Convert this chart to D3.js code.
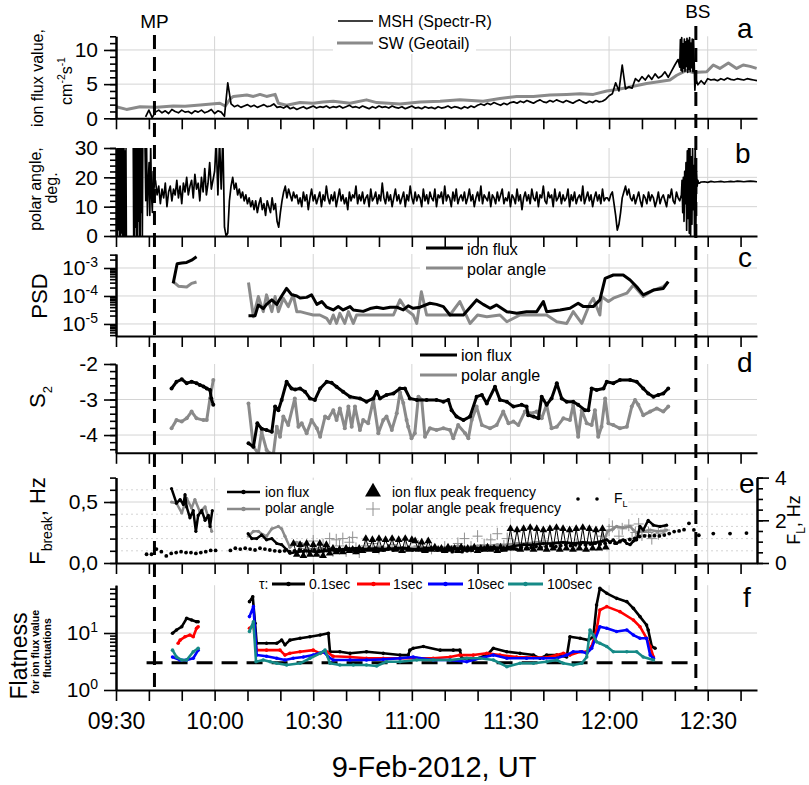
<!DOCTYPE html>
<html>
<head>
<meta charset="utf-8">
<script src="https://cdn.jsdelivr.net/npm/d3@7"></script>
<style>
  body { margin: 0; background: #fff; }
  svg { display: block; background: #fff; }
</style>
</head>
<body>
<svg width="809" height="785"></svg>
<script>
// ---- data (time in minutes after 09:30 UT, 9-Feb-2012) ----

// a: ion flux value (MSH, Spectr-R) sampled every minute from t=9
const mshStart = 9;
const mshValues = [
  0.2, 1.2, 0.1, 0.9, 1.2, 0.8, 1.1, 0.7, 1.3, 1.0,
  0.8, 1.2, 0.9, 1.0, 0.7, 1.1, 0.9, 1.2, 0.8, 1.0,
  1.3, 0.7, 1.1, 0.9, 0.3, 5.2, 2.1, 1.7, 1.9, 1.6,
  1.8, 2.0, 1.7, 1.9, 1.6, 1.8, 2.0, 1.7, 1.8, 2.1,
  1.6, 1.7, 1.5, 1.8, 1.4, 1.6, 1.3, 1.5, 1.7, 1.4,
  1.6, 1.8, 1.5, 1.7, 1.6, 1.8, 1.5, 1.7, 1.6, 1.8,
  1.5, 1.7, 1.9, 1.6, 1.7, 1.5, 1.8, 1.6, 1.4, 1.7,
  1.5, 1.8, 1.6, 1.7, 1.5, 1.8, 1.6, 1.5, 1.7, 1.4,
  1.6, 1.8, 1.5, 1.6, 1.4, 1.7, 1.5, 1.6, 1.4, 1.7,
  1.5, 1.6, 1.8, 1.5, 1.7, 1.6, 1.4, 1.7, 1.5, 1.8,
  1.6, 1.9, 2.1, 1.9, 2.2, 2.0, 2.3, 2.1, 1.9, 2.2,
  2.0, 2.3, 2.4, 2.2, 2.5, 2.3, 2.6, 2.4, 2.2, 2.5,
  2.7, 2.4, 2.3, 2.6, 2.4, 2.7, 2.5, 2.3, 2.6, 2.4,
  2.2, 2.5, 2.7, 2.4, 2.2, 2.5, 2.3, 2.6, 2.4, 2.5,
  2.8, 3.3, 3.6, 5.2, 4.0, 7.8, 4.3, 4.6, 4.4, 5.8,
  5.4, 6.1, 5.6, 6.3, 5.7, 6.5, 5.9, 6.2, 6.8, 6.0,
  6.9, 7.8, 8.6
];
// burst just before the bow shock, every 0.2 min from t=171.5
const mshBurstStart = 171.5;
const mshBurst = [7.5, 11.5, 7.0, 11.8, 6.8, 10.9, 7.3, 11.6, 6.9, 11.2, 7.6, 11.7, 6.7,
  11.4, 7.2, 11.8, 6.9, 11.0, 7.4, 11.6, 6.8, 11.5, 8.0, 4.1, 5.8];
// after the bow shock, every minute from t=177
const mshTailStart = 177;
const mshTail = [4.9, 5.5, 5.0, 5.8, 5.6, 5.7, 5.5, 5.8, 5.6, 5.9, 5.7, 5.6, 5.8, 5.7, 5.6, 5.8, 5.7, 5.6, 5.5];

// a: SW (Geotail)
const swFlux = [[0,1.7],[3.2,1.3],[7.3,1.7],[12.4,1.6],[17.4,1.8],[21,1.75],[25.6,1.95],[31.6,2.2],[33.2,1.8],
  [34.7,2.8],[35.7,3.2],[39.8,3.4],[41.8,3.2],[43.8,3.5],[45.8,3.2],[48.4,3.5],[49.4,2.2],[51.9,1.9],
  [56,2.3],[60,2.2],[63,2.4],[66.1,2.5],[71.2,2.2],[76.2,2.7],[79.3,2.3],[86.4,2.1],[92.5,2.4],
  [98.6,2.5],[104.6,2.7],[111.7,2.5],[116.8,2.9],[121.9,3.2],[127,3.2],[132,3.4],[137.1,3.5],
  [141.2,3.6],[145.2,3.5],[149.3,4.0],[153.3,4.3],[157.4,4.7],[161.4,5.1],[165.5,5.4],[168.5,5.6],
  [170.6,6.3],[173.6,7.0],[175.6,6.7],[179.7,6.8],[181.7,7.8],[183.7,7.3],[186.3,8.1],[188.8,7.3],
  [190.8,7.8],[192.9,7.6],[194.9,7.3]];

// b: polar angle, deg. Off-scale (saturated) stretches near the magnetopause
const polarSat1Start = 0.2, polarSatStep = 0.15;
const polarSat1 = [-2, 32, -2, 32, 2, 32, -2, 32, -2, 32, 1, 32, -2, 32, -2, 32, -2, 29, -2, 32, -2];
const polarSat2Start = 5.2;
const polarSat2 = [32, -2, 32, -2, 32, 3, 32, -2, 32, -2, 32, 5, 32, -2, 32, -2, 32, 8, 32, -2, 32];
const polarMpStart = 8.8, polarMpStep = 0.25;
const polarMp = [32, 12, 32, 7, 18, 25, 7, 32, 14, 8, 22, 16, 19];
// every 0.5 min from t=12
const polarStart = 12;
const polarValues = [
  19,14,17,11,16,13,18,10,15,17,12,16,14,19,13,17,11,18,15,20,14,17,19,13,21,16,18,12,20,15,23,14,18,25,16,19,22,
  32,14,33,16,34,3,0,1,12,17, 20,16,18,14,16,13,15,12,14,11, 13,10,12,9,12,8,11,13,9,11,
  7,12,10,8,13,9,11,5,3,8, 12,15,17,13,16,14,12,15,13,
  14,11,13,10,15,12,14,9,13,16,12,14,11,13,15,10,14,12,17,13,
  11,14,12,15,10,13,16,12,14,11,13,9,15,12,14,13,17,11,14,12,
  15,11,13,14,10,16,12,13,15,11,14,12,18,13,11,15,12,14,10,13,
  16,12,14,11,13,15,10,14,12,17,13,11,15,12,14,13,10,16,12,14,
  11,15,13,12,16,10,14,13,15,11,17,12,14,13,10,15,12,16,11,13,
  14,12,15,11,13,16,12,14,10,13,15,12,17,11,14,13,12,15,10,14,
  13,11,15,12,14,16,11,13,12,15,10,14,13,11,16,12,14,9,13,15,
  12,14,11,16,13,12,15,10,14,13,17,12,11,15,13,14,10,16,12,13,
  15,11,14,12,13,16,10,14,12,15,11,13,14,12,17,11,13,15,12,14,
  10,13,15,12,14,11,16,12,13,
  13,12,14,15,11,7,2,4,8,13,15,17,14,16,13,
  12,14,11,13,15,12,10,14,13,11,15,12,14,13,10,12,15,11,13,14,12,10,14,13,16,12,11,15,13,12
];
const polarBurstStart = 172, polarBurstStep = 0.2;
const polarBurst = [14,19,8,20,5,22,11,25,2,29,6,31,1,32,0,27,4,30,9,24,0,31,3,22,17,19,18,18];
const polarTailStart = 178;
const polarTail = [18.4,18.5,18.3,18.6,18.4,18.5,18.6,18.4,18.5,18.6,18.5,18.7,18.6,18.5,18.6,18.7,18.6,18.5];

// c: PSD (log10 values)
const psdFluxA = [[17.4,-3.55],[18.6,-2.85],[20,-2.82],[21.5,-2.8],[23,-2.72],[24.5,-2.6]];
const psdAngleA = [[17.4,-3.49],[19,-3.65],[21.5,-3.68],[23,-3.55],[24.5,-3.5]];
const psdFluxB = [[40.3,-4.71],[42.3,-4.71],[43.3,-4.32],[44.8,-4.45],[45.8,-4.3],[47.4,-4.14],[48.9,-4.3],
  [50.4,-4.0],[51.9,-3.73],[53.4,-3.95],[55,-4.0],[56,-4.07],[58,-4.05],[59.5,-3.96],[61.1,-4.3],[62.6,-4.2],
  [64.1,-4.4],[66.1,-4.5],[67.6,-4.38],[69.1,-4.5],[71.2,-4.38],[72.2,-4.5],[75.2,-4.55],[77.3,-4.45],
  [79.3,-4.4],[81.3,-4.45],[83.4,-4.4],[85.4,-4.4],[87.4,-4.5],[88.9,-4.35],[90.4,-4.44],[92.5,-4.4],
  [95.5,-4.26],[97.5,-4.3],[99.6,-4.38],[101.6,-4.68],[105.7,-4.68],[109.7,-4.14],[111.7,-4.3],[113.8,-4.44],
  [115.8,-4.32],[118.9,-4.56],[121.9,-4.62],[124.9,-4.56],[128,-4.56],[130,-4.2],[131,-4.56],[135.1,-4.5],
  [138.1,-4.44],[140.6,-4.26],[142.2,-4.38],[145.2,-4.38],[147.2,-4.14],[148.8,-3.37],[151.3,-3.25],
  [154.3,-3.25],[156.4,-3.43],[158.4,-3.67],[160.4,-3.96],[163.5,-3.79],[166.5,-3.73],[168,-3.49]];
const psdAngleB = [[40.3,-3.52],[41.8,-4.74],[43.3,-4.02],[44.8,-4.56],[45.8,-3.96],[47.4,-4.56],[48.4,-4.02],
  [49.4,-4.56],[50.9,-4.08],[52.4,-4.38],[53.9,-3.96],[55,-4.56],[56,-4.56],[58,-4.62],[60,-4.68],[62,-4.68],
  [64.1,-4.8],[65.1,-4.98],[66.1,-4.68],[67.1,-4.98],[68.1,-4.62],[69.6,-4.98],[70.7,-4.56],[72.2,-4.98],
  [73.2,-4.68],[75.2,-4.68],[77.3,-4.68],[79.3,-4.68],[81.3,-4.68],[84.4,-4.68],[86.4,-4.14],[88.4,-4.5],
  [90.4,-4.68],[91.5,-4.98],[92.9,-3.85],[94.5,-4.68],[98.6,-4.68],[101.6,-4.68],[104.6,-4.2],[107.7,-4.98],
  [110,-4.68],[112.8,-4.74],[116.8,-4.68],[118.9,-4.92],[122.9,-4.68],[127,-4.68],[131,-4.68],[134.1,-4.92],
  [137.1,-4.98],[139.1,-4.56],[141.7,-4.98],[144.2,-4.26],[145.2,-4.08],[147.2,-4.68],[147.7,-4.02],
  [149.8,-4.2],[151.3,-4.08],[155.4,-3.9],[157.4,-3.61],[160.4,-4.02],[163.5,-3.79],[166.5,-3.67],[168,-3.49]];

// d: S2
const s2FluxA = [[16.9,-2.69],[18.4,-2.5],[20,-2.43],[21.5,-2.54],[23,-2.5],[24.5,-2.54],[25.5,-2.59],
  [26.6,-2.63],[27.6,-2.69],[28.6,-2.73],[29,-2.97],[29.6,-3.15]];
const s2AngleA = [[16.9,-3.81],[18.4,-3.58],[20,-3.62],[21.5,-3.53],[23,-3.34],[24.5,-3.53],[26.6,-3.58],
  [27.6,-3.58],[28.6,-2.97],[29.6,-2.45]];
const s2FluxB = [[40.3,-4.23],[41.8,-4.33],[43,-3.67],[44.3,-3.82],[45.8,-3.86],[47.4,-3.91],[48.4,-3.2],
  [49.4,-3.3],[50.4,-3.01],[51.9,-2.5],[53.4,-2.69],[54.5,-2.72],[56,-2.69],[57.5,-2.78],[59,-2.97],
  [60.5,-3.01],[62.1,-2.69],[64.1,-2.5],[65.6,-2.53],[67.1,-2.64],[69.1,-2.78],[71.2,-2.92],[74.2,-2.97],
  [76.2,-3.06],[78.3,-2.97],[79.3,-2.78],[80.3,-2.97],[82.3,-2.87],[84.4,-2.83],[86.4,-2.69],[87.9,-2.69],
  [89.4,-2.97],[91.5,-3.01],[94.5,-3.01],[97.5,-3.01],[99.6,-3.06],[101.1,-3.01],[102.1,-3.3],[103.6,-3.48],
  [105.7,-3.58],[107.7,-3.48],[109.7,-2.92],[111.3,-2.87],[112.8,-3.11],[115.3,-2.64],[116.8,-3.01],
  [118.9,-3.06],[120.9,-3.2],[123.4,-3.15],[124.9,-3.2],[125.4,-3.44],[127,-3.48],[128.5,-3.53],[129.5,-2.92],
  [131,-3.15],[132.5,-2.97],[134.1,-2.54],[135.6,-2.97],[137.1,-3.06],[139.1,-3.06],[140.6,-3.15],
  [142.7,-3.3],[143.7,-3.3],[144.7,-2.69],[146.2,-2.73],[148.3,-2.69],[149.3,-2.5],[151.3,-2.54],
  [153.3,-2.45],[156.4,-2.45],[158.4,-2.5],[160.4,-2.69],[161.9,-2.83],[163.5,-2.92],[165,-2.87],
  [166.5,-2.83],[168,-2.69]];
const s2AngleB = [[40.3,-3.11],[41.8,-4.33],[43.3,-4.52],[44.3,-3.91],[45.8,-4.42],[46.9,-4.52],[47.9,-4.52],
  [48.9,-3.77],[49.9,-4.05],[50.9,-3.48],[52.4,-3.72],[54.4,-2.97],[55.5,-3.77],[56.5,-3.67],[58,-3.95],
  [59.5,-3.58],[61.1,-3.81],[62.1,-4.05],[63.6,-3.48],[64.6,-3.53],[66.1,-3.3],[67.1,-3.58],[68.1,-3.25],
  [69.6,-3.81],[70.7,-3.2],[71.7,-3.77],[72.7,-3.2],[74.2,-3.86],[75.2,-3.58],[76.7,-3.67],[78.3,-3.01],
  [79.8,-3.95],[81.3,-3.58],[82.3,-3.48],[83.9,-3.86],[85.4,-3.39],[86.4,-2.8],[87.4,-3.1],[88.4,-3.58],
  [88.9,-3.77],[89.9,-4.09],[90.9,-3.95],[92,-2.92],[93,-3.01],[94,-4.05],[95.5,-3.81],[97.5,-3.86],
  [99.6,-3.81],[101.6,-3.86],[102.6,-4.09],[104.1,-3.72],[106.2,-3.95],[107.2,-4.09],[108.2,-3.58],
  [109.7,-3.2],[111.3,-3.72],[113.8,-3.81],[115.8,-3.72],[117.8,-3.34],[119.4,-3.67],[120.9,-3.62],
  [122.4,-3.72],[124.4,-3.34],[125.9,-3.39],[128,-3.34],[129.5,-3.53],[131,-3.15],[132.5,-3.81],
  [134.1,-3.77],[136.1,-3.53],[138.1,-3.58],[139.1,-3.15],[140.6,-4.05],[141.7,-3.3],[143.2,-3.67],
  [144.7,-3.72],[145.7,-3.3],[146.7,-4.05],[147.7,-3.77],[148.8,-2.97],[149.8,-3.67],[151.3,-3.72],
  [153.3,-3.81],[155.4,-3.77],[156.9,-3.2],[157.9,-3.01],[158.9,-3.15],[160.4,-3.44],[162.5,-3.34],
  [164.5,-3.25],[166.5,-3.34],[168,-3.2]];

// e: break frequency, Hz (left axis)
const fbFluxA = [[16.9,.61],[18.4,.49],[19.5,.52],[20.5,.48],[21,.56],[21.5,.46],[22.5,.37],[23.5,.43],
  [24.3,.26],[25,.39],[26.1,.43],[27.1,.35],[28.1,.39],[28.6,.30],[29.3,.43]];
const fbAngleA = [[16.9,.50],[18.4,.49],[20,.41],[21.5,.53],[23,.45],[24,.52],[25.5,.42],[27.1,.46],
  [28.1,.37],[29.1,.26]];
const fbFluxB = [[40.2,.24],[41.3,.20],[42.8,.20],[44.3,.23],[45.8,.19],[47.4,.20],[48.9,.16],[50.4,.15],
  [51.9,.11],[52.9,.08],[55,.09],[58,.10],[61,.09],[64,.10],[67,.11],[70,.11],[73,.12],[76,.11],[79,.12],
  [82,.11],[85,.12],[88,.12],[91,.11],[94,.12],[97,.12],[100,.11],[103,.12],[106,.11],[109,.12],[112,.12],
  [115,.13],[118,.12],[121,.14],[124,.15],[127,.15],[130,.16],[133,.16],[136,.17],[139,.16],[142,.17],
  [145,.16],[148,.18],[149.3,.19],[150.3,.17],[151.3,.19],[152.3,.16],[153.3,.18],[154.3,.19],[155.4,.16],
  [156.4,.15],[157.4,.18],[158.4,.19],[159.4,.30],[160.4,.27],[161.9,.35],[163.5,.31],[165.5,.30],[167.5,.31]];
const fbAngleB = [[40.3,.22],[41.8,.26],[43.3,.26],[44.8,.23],[45.8,.22],[47.4,.28],[49.4,.30],[50.4,.28],
  [51.4,.22],[52.9,.13],[54.9,.17],[56.5,.16],[59,.11],[62,.12],[65,.12],[68,.11],[71,.12],[74,.12],[77,.12],
  [80,.13],[83,.12],[86,.13],[89,.12],[92,.13],[95,.13],[98,.12],[101,.13],[104,.14],[107,.13],[110,.14],
  [113,.14],[116,.15],[119,.15],[122,.16],[125,.16],[128,.17],[131,.16],[134,.17],[137,.17],[140,.16],
  [143,.17],[146,.17],[148.5,.18],[149.5,.26],[151.3,.28],[152.3,.30],[154.3,.29],[156.4,.30],[157.4,.27],
  [158.4,.25],[160.4,.26],[162.5,.27],[164.5,.26],[166.5,.26],[167.5,.27]];
// ion flux peak frequency, every minute from t=54
const peakFluxStart = 54;
const peakFlux = [
  .16,.07,.15,.06,.16,.07,.15,.07,.16,.06,.15,.08,
  .12,.09,.11,.09,.12,.10,.11,.09,.12,.10,
  .20,.11,.19,.10,.20,.11,.19,.12,.20,.11,.19,.10,.20,.11,.19,
  .18,.11,.17,.10,.18,.11,
  .13,.11,.12,.10,.13,.11,.12,.10,.13,.11,.12,.11,.13,.10,.12,.11,.13,.11,.12,.10,.13,.11,.12,
  .28,.12,.27,.11,.28,.12,.29,.11,.28,.12,.27,.11,.28,.12,.29,.11,.28,.12,.27,.11,.28,.12,.29,.11,.28,.12,.27,.12,.28,.13
];
// polar angle peak frequency
const peakAngle = [[58,.12],[60,.18],[62,.09],[63,.15],[65,.2],[66,.1],[67,.19],[68,.14],[69,.2],[70,.1],
  [71,.17],[72,.21],[73,.12],[74,.09],[76,.14],[78,.16],[80,.12],[84,.15],[88,.13],[92,.14],[96,.12],
  [100,.13],[104,.16],[106,.2],[108,.13],[110,.22],[112,.15],[114,.19],[116,.24],[118,.14],[119,.2],
  [121,.15],[130,.18],[140,.15],[148,.22],[150,.27],[151,.3],[153,.22],[154,.28],[156,.31],[157,.2],
  [158,.25],[159,.32],[160,.23],[162,.25],[163,.2],[165,.24],[167,.27]];
// F_L, Hz (right axis), every 1.5 min from t=9.3
const flStart = 9.3, flStep = 1.5;
const flValues = [.41,.41,.65,.53,.33,.45,.49,.53,.49,.49,
  .45,.49,.53,.59,.59,null,null,.59,.69,.65,
  .69,.65,.61,.69,.65,.61,.57,.55,.57,.53,
  .57,.61,.57,.53,.61,.57,.61,.65,.61,.57,
  .61,.65,.61,.57,.61,.65,.61,.57,.61,.65,
  .61,.65,.69,.65,.61,.65,.57,.61,.65,.61,
  .57,.61,.53,.57,.53,.57,.61,.65,.61,.65,
  .69,.65,.61,.65,.69,.65,.73,.69,.73,.77,
  .73,.77,.81,.77,.81,.85,.81,.85,.89,.85,
  .89,.93,.89,.93,.97,.93,1.0,1.05,1.1,1.15,
  1.24,1.27,1.27,1.28,1.27,1.31,1.38,1.47,1.5,1.56,
  1.86,1.55,1.3];
const flAfterBS = [[181.7,1.38],[186.8,1.38],[191.8,1.4]];

// f: flatness for tau = 0.1, 1, 10, 100 sec
const tauNames = ["0.1sec", "1sec", "10sec", "100sec"];
const tauColors = ["#000000", "#ff0000", "#0000ff", "#168a87"];
const flat01 = [
  [[17.2,9.9],[18.4,11.3],[20,12.9],[21.5,18.1],[23,16.9],[24.5,15.8],[25,15.8]],
  [[40.6,35.5],[41.6,43.4],[42.3,14.8],[42.8,6.6],[45.8,6.6],[48.9,6.6],[50.4,7.5],[51.4,6.2],[52.9,7.5],
   [56,8.1],[59,8.6],[62.1,9.2],[64.6,9.9],[65.1,4.7],[68.1,4.7],[71.2,4.4],[76.2,4.7],[81.3,4.4],[86.4,4.1],
   [88.9,4.1],[89.4,5.0],[90.4,5.4],[93.5,5.8],[98.6,5.0],[102.6,5.0],[104.6,5.0],[105.2,3.6],[108.7,3.36],
   [112.8,4.1],[114.8,5.4],[118.9,4.7],[122.9,4.4],[127,4.1],[129,3.6],[131,4.1],[134.1,4.1],[137.1,3.8],
   [138.1,8.6],[141.2,8.1],[143.7,7.5],[145.2,8.6],[146.2,31],[147.2,60.8],[149.3,49.7],[152.3,40.6],
   [155.4,35.5],[157.4,27.1],[159.4,19.4],[161.4,13.8],[161.9,11.3],[163,5.8],[164,5.4]]
];
const flat1 = [
  [[18.9,6.6],[19.5,7.5],[21,8.6],[22.5,9.2],[23.5,8.6],[24.5,12.1],[25,12.9]],
  [[40.6,12.1],[41.8,13.8],[42.8,5.0],[45.8,5.0],[49.9,5.0],[51.4,4.1],[52.9,4.4],[56,4.7],[60,5.0],
   [62.1,4.4],[64.1,4.7],[66.1,3.9],[71.2,3.8],[76.2,3.6],[81.3,3.6],[86.4,3.6],[91.5,3.6],[96.5,3.6],
   [101.6,3.8],[104.6,4.1],[108.7,4.1],[112.8,4.4],[116.8,4.1],[121.9,3.8],[127,3.7],[131,3.7],[134.1,4.1],
   [136.1,4.4],[138.1,4.1],[141.2,4.7],[143.2,4.7],[144.7,5.8],[146.2,11.3],[147.2,25.3],[149.3,29],
   [153.3,23.7],[157.4,16.9],[159.4,12.9],[161.4,8.1],[162.5,5.8],[163.5,3.8]]
];
const flat10 = [
  [[17.2,3.8],[19.5,3.36],[21.5,3.36],[23.5,3.6],[25,5.0]],
  [[40.6,19.4],[41.8,29],[42.8,4.1],[45.8,3.9],[48.9,3.6],[51.4,3.36],[53.9,3.6],[57,3.8],[60,4.1],
   [63.1,4.7],[64.6,3.8],[66.1,3.36],[71.2,3.36],[76.2,3.36],[81.3,3.45],[86.4,3.6],[90.4,3.8],[96.5,3.36],
   [101.6,3.36],[106.7,3.14],[110.7,3.6],[114.8,4.1],[118.9,3.6],[124.9,3.6],[130,3.6],[134.1,3.6],
   [137.1,4.1],[139.1,4.7],[141.7,4.7],[143.2,4.4],[144.7,5.4],[147.2,12.9],[149.3,12.1],[152.3,10.6],
   [155.4,11.3],[157.4,9.2],[159.4,8.1],[161.4,8.1],[162.5,4.1],[163.5,3.6]]
];
const flat100 = [
  [[17.2,5.0],[18.4,3.8],[20,3.36],[21.5,3.36],[23.5,4.7],[25,5.4]],
  [[40.6,10.6],[41.8,15.8],[42.6,3.14],[44.8,3.36],[46.9,3.14],[48.9,2.94],[51.9,2.75],[56,2.94],[59,3.6],
   [62.1,4.4],[63.6,5.0],[65.1,2.94],[68.1,2.75],[72.2,2.75],[76.2,2.75],[79.3,2.64],[82.3,3.14],
   [86.4,3.14],[91.5,3.36],[96.5,3.36],[101.6,3.36],[106.7,3.6],[110.7,3.6],[114.8,3.36],[118.9,2.57],
   [122.9,2.94],[127,2.94],[131,3.14],[134.1,3.36],[136.1,2.94],[139.1,2.75],[141.7,2.94],[143.2,3.8],
   [144.2,11.3],[145.2,9.2],[146.2,7.0],[147.2,6.6],[149.3,5.8],[151.3,4.7],[155.4,4.7],[158.4,4.7],
   [160.4,3.8],[163.5,3.36]]
];
const gaussFlatness = 3;
const gaussLine = [9.3, 175.2];

// boundary crossings
const crossings = [{ name: "MP", t: 11.7 }, { name: "BS", t: 176.4 }];

// ---- drawing ----
const svg = d3.select("svg");
const FONT = "'Liberation Sans', Arial, Helvetica, sans-serif";
svg.attr("font-family", FONT);
const base = new Date(2012, 1, 9, 9, 30);
const at = m => new Date(base.getTime() + m * 60000);
const steps = (t0, dt, vals) => vals.map((v, i) => [t0 + i * dt, v]);
const X0 = 116, X1 = 757;

const x = d3.scaleTime().domain([at(0), at(195)]).range([X0, X1]);

const P = {
  a: { top: 36.3, bot: 118.3 },
  b: { top: 148, bot: 236 },
  c: { top: 254, bot: 336 },
  d: { top: 364, bot: 452.8 },
  e: { top: 477.6, bot: 563 },
  f: { top: 585.2, bot: 690 }
};
const ya = d3.scaleLinear([0, 12], [P.a.bot, P.a.top]);
const yb = d3.scaleLinear([0, 30], [P.b.bot, P.b.top]);
const yc = d3.scaleLog([Math.pow(10, -5.43), Math.pow(10, -2.5)], [P.c.bot, P.c.top]);
const yd = d3.scaleLinear([-4.5, -2], [P.d.bot, P.d.top]);
const ye = d3.scaleLinear([0, 0.7], [P.e.bot, P.e.top]);
const yeR = d3.scaleLinear([0, 4], [P.e.bot, P.e.top]);
const yf = d3.scaleLog([1, 69], [P.f.bot, P.f.top]);

const defs = svg.append("defs");
Object.entries(P).forEach(([k, p]) => {
  defs.append("clipPath").attr("id", "clip-" + k).append("rect")
    .attr("x", X0).attr("y", p.top).attr("width", X1 - X0).attr("height", p.bot - p.top);
});

// grid
const gridG = svg.append("g").attr("stroke", "#d4d4d4").attr("stroke-width", 1);
const hGrid = { a: [ya, [5, 10]], b: [yb, [10, 20]], c: [yc, [1e-3, 1e-4, 1e-5]], d: [yd, [-3, -4]], e: [ye, [0.5]], f: [yf, [10]] };
Object.entries(hGrid).forEach(([k, [sc, vals]]) => {
  vals.forEach(v => gridG.append("line").attr("x1", X0).attr("x2", X1).attr("y1", sc(v)).attr("y2", sc(v)));
});
[0.1, 0.2, 0.3, 0.4, 0.6].forEach(v => gridG.append("line").attr("x1", X0).attr("x2", X1)
  .attr("y1", ye(v)).attr("y2", ye(v)).attr("stroke-dasharray", "2,3"));
Object.values(P).forEach(p => {
  [30, 60, 90, 120, 150, 180].forEach(t => gridG.append("line")
    .attr("x1", x(at(t))).attr("x2", x(at(t))).attr("y1", p.top).attr("y2", p.bot));
});

// white legend backgrounds
[[333, 6, 143, 48], [420, 247, 128, 31], [417, 347, 128, 39], [220, 480, 408, 38], [255, 576, 340, 16]]
  .forEach(([rx, ry, rw, rh]) => svg.append("rect").attr("x", rx).attr("y", ry).attr("width", rw).attr("height", rh).attr("fill", "#fff"));

function line(g, data, y, color, width) {
  g.append("path").datum(data)
    .attr("fill", "none").attr("stroke", color).attr("stroke-width", width)
    .attr("stroke-linejoin", "round")
    .attr("d", d3.line().defined(d => d[1] != null).x(d => x(at(d[0]))).y(d => y(d[1])));
}
function dots(g, data, y, color, r) {
  g.selectAll(null).data(data.filter(d => d[1] != null)).join("circle")
    .attr("cx", d => x(at(d[0]))).attr("cy", d => y(d[1])).attr("r", r).attr("fill", color);
}
const pg = k => svg.append("g").attr("clip-path", `url(#clip-${k})`);
const GRAY = "#8a8a8a";

// a
const ga = pg("a");
line(ga, swFlux, ya, GRAY, 3);
line(ga, steps(mshStart, 1, mshValues).concat(steps(mshBurstStart, 0.2, mshBurst), steps(mshTailStart, 1, mshTail)), ya, "#000", 1.7);

// b
const gb = pg("b");
line(gb, steps(polarSat1Start, polarSatStep, polarSat1), yb, "#000", 1.4);
line(gb, steps(polarSat2Start, polarSatStep, polarSat2), yb, "#000", 1.4);
line(gb, steps(polarMpStart, polarMpStep, polarMp), yb, "#000", 1.6);
line(gb, steps(polarStart, 0.5, polarValues).concat(steps(polarBurstStart, polarBurstStep, polarBurst),
  steps(polarTailStart, 1, polarTail)), yb, "#000", 1.7);

// c
const gc = pg("c");
const pow = s => s.map(d => [d[0], Math.pow(10, d[1])]);
[psdAngleA, psdAngleB].forEach(s => line(gc, pow(s), yc, GRAY, 3));
[psdFluxA, psdFluxB].forEach(s => line(gc, pow(s), yc, "#000", 3));

// d
const gd = pg("d");
[s2AngleA, s2AngleB].forEach(s => { line(gd, s, yd, GRAY, 3); dots(gd, s, yd, GRAY, 2); });
[s2FluxA, s2FluxB].forEach(s => { line(gd, s, yd, "#000", 3); dots(gd, s, yd, "#000", 2); });

// e
const ge = pg("e");
const plusPath = "M-5,0H5M0,-6V6";
ge.selectAll(null).data(peakAngle).join("path").attr("d", plusPath)
  .attr("transform", d => `translate(${x(at(d[0]))},${ye(d[1])})`).attr("stroke", "#909090").attr("stroke-width", 1);
[fbAngleA, fbAngleB].forEach(s => { line(ge, s, ye, GRAY, 2.5); dots(ge, s, ye, GRAY, 1.6); });
[fbFluxA, fbFluxB].forEach(s => { line(ge, s, ye, "#000", 2.5); dots(ge, s, ye, "#000", 1.6); });
const pf = steps(peakFluxStart, 1, peakFlux);
line(ge, pf, ye, "#000", 1);
ge.selectAll(null).data(pf).join("path").attr("d", d3.symbol(d3.symbolTriangle, 26)())
  .attr("transform", d => `translate(${x(at(d[0]))},${ye(d[1])})`).attr("fill", "#000");
dots(ge, steps(flStart, flStep, flValues).concat(flAfterBS), yeR, "#000", 1.9);

// f
const gf = pg("f");
gf.append("line").attr("x1", x(at(gaussLine[0]))).attr("x2", x(at(gaussLine[1])))
  .attr("y1", yf(gaussFlatness)).attr("y2", yf(gaussFlatness))
  .attr("stroke", "#000").attr("stroke-width", 3).attr("stroke-dasharray", "16,9");
[flat01, flat1, flat10, flat100].forEach((segs, i) => segs.forEach(s => {
  line(gf, s, yf, tauColors[i], 2.6); dots(gf, s, yf, tauColors[i], 1.8);
}));

// axes
function styleAxis(g, size) {
  g.attr("font-size", size).attr("font-family", FONT);
  g.select(".domain").attr("stroke-width", 2);
  g.selectAll(".tick line").attr("stroke-width", 1.6);
  g.selectAll(".tick text").attr("fill", "#000");
  return g;
}
Object.entries(P).forEach(([k, p]) => {
  const ax = d3.axisBottom(x).ticks(d3.timeMinute.every(10)).tickSize(11).tickSizeOuter(0).tickPadding(12)
    .tickFormat(k === "f" ? (d => d.getMinutes() % 30 === 0 ? d3.timeFormat("%H:%M")(d) : "") : "");
  styleAxis(svg.append("g").attr("transform", `translate(0,${p.bot})`).call(ax), 23);
});
function yAxis(sc, majors, minors, fmt, right) {
  const xPos = right ? X1 : X0;
  const mk = right ? d3.axisRight : d3.axisLeft;
  styleAxis(svg.append("g").attr("transform", `translate(${xPos},0)`)
    .call(mk(sc).tickValues(minors).tickSize(6).tickSizeOuter(0).tickFormat("")), 21);
  return styleAxis(svg.append("g").attr("transform", `translate(${xPos},0)`)
    .call(mk(sc).tickValues(majors).tickSize(12).tickSizeOuter(0).tickPadding(6).tickFormat(fmt)), 21);
}
function sup10(g) {
  g.selectAll(".tick text").each(function (d) {
    const e = Math.round(Math.log10(d));
    const t = d3.select(this).text("10");
    t.append("tspan").attr("dy", "-0.6em").attr("font-size", "14px").text(e);
  });
}
const range = (a, b, s) => d3.range(a, b + s / 2, s);
const logMinors = (lo, hi) => { const r = []; for (let e = lo; e <= hi; e++) for (let m = 2; m <= 9; m++) r.push(m * Math.pow(10, e)); return r; };

yAxis(ya, [0, 5, 10], range(0, 12, 1), d => String(d));
yAxis(yb, [0, 10, 20, 30], range(0, 30, 2), d => String(d));
sup10(yAxis(yc, [1e-5, 1e-4, 1e-3], logMinors(-6, -3).filter(v => v >= yc.domain()[0] && v <= yc.domain()[1]), d => d));
yAxis(yd, [-4, -3, -2], range(-4.4, -2, 0.2), d => String(d));
yAxis(ye, [0, 0.5], range(0, 0.7, 0.1), d => d3.format(".1f")(d).replace(".", ","));
yAxis(yeR, [0, 2, 4], range(0, 4, 0.5), d => String(d), true);
sup10(yAxis(yf, [1, 10], logMinors(0, 1).filter(v => v <= 69), d => d));

// boundary dashed lines and labels
crossings.forEach(c => {
  const cx = x(at(c.t));
  svg.append("line").attr("x1", cx).attr("x2", cx).attr("y1", c.name === "MP" ? 35 : 26).attr("y2", P.f.bot)
    .attr("stroke", "#000").attr("stroke-width", 3).attr("stroke-dasharray", "14,8");
  svg.append("text").attr("x", cx + (c.name === "BS" ? 2 : 0)).attr("y", c.name === "MP" ? 28 : 18)
    .attr("text-anchor", "middle").attr("font-size", 19).text(c.name);
});

// panel letters
[["a", 737, 38], ["b", 735, 163], ["c", 738, 267], ["d", 737, 372], ["e", 739, 493], ["f", 743, 607]]
  .forEach(([s, lx, ly]) => svg.append("text").attr("x", lx).attr("y", ly).attr("font-size", 28).text(s));

// rich text helper
function rich(sel, size, parts) {
  let shift = 0;
  parts.forEach(p => {
    const target = p.sup ? -0.45 * size : p.sub ? 0.3 * size : 0;
    const ts = sel.append("tspan").attr("dy", target - shift)
      .attr("font-size", (p.sup || p.sub) ? (p.small || size * 0.65) : size).text(p.t);
    if (p.bold) ts.attr("font-weight", "bold");
    shift = target;
  });
  return sel;
}
function vlabel(bx, cy, size, parts, bold) {
  const t = svg.append("text").attr("transform", `translate(${bx},${cy}) rotate(-90)`)
    .attr("text-anchor", "middle").attr("font-size", size);
  if (bold) t.attr("font-weight", "bold");
  return rich(t, size, parts);
}
vlabel(43, 78, 16, [{ t: "ion flux value," }]);
vlabel(72, 81, 16, [{ t: "cm" }, { t: "-2", sup: true }, { t: "s" }, { t: "-1", sup: true }]);
vlabel(41, 189, 16, [{ t: "polar angle," }]);
vlabel(57, 188, 16, [{ t: "deg." }]);
vlabel(47, 296, 22, [{ t: "PSD" }]);
vlabel(45, 397, 22, [{ t: "S" }, { t: "2", sub: true, small: 13 }]);
vlabel(45, 521, 22, [{ t: "F" }, { t: "break", sub: true, small: 14 }, { t: ", Hz" }]);
vlabel(800, 520, 18, [{ t: "F" }, { t: "L", sub: true, small: 12 }, { t: ", Hz" }]);
vlabel(27, 656, 23, [{ t: "Flatness" }]);
vlabel(39, 652, 10.5, [{ t: "for ion flux value" }], true);
vlabel(51, 648, 10.5, [{ t: "fluctuations" }], true);

svg.append("text").attr("x", 434).attr("y", 777).attr("text-anchor", "middle").attr("font-size", 29)
  .text("9-Feb-2012, UT");

// legends
function legLine(x1, x2, y, color, w, dot) {
  svg.append("line").attr("x1", x1).attr("x2", x2).attr("y1", y).attr("y2", y).attr("stroke", color).attr("stroke-width", w);
  if (dot) svg.append("circle").attr("cx", (x1 + x2) / 2).attr("cy", y).attr("r", 2.2).attr("fill", color);
}
function legText(lx, ly, size, s) {
  return svg.append("text").attr("x", lx).attr("y", ly).attr("font-size", size).text(s);
}
// a
legLine(338, 373, 21, "#000", 1.5); legText(378, 27, 16, "MSH (Spectr-R)");
legLine(337, 373, 43, GRAY, 3); legText(378, 49, 16, "SW (Geotail)");
// c
legLine(426, 463, 248, "#000", 3); legText(467, 255, 16, "ion flux");
legLine(426, 463, 268, GRAY, 3); legText(467, 275, 16, "polar angle");
// d
legLine(420, 457, 355, "#000", 3); legText(461, 361, 16, "ion flux");
legLine(420, 457, 375, GRAY, 3); legText(461, 381, 16, "polar angle");
// e
legLine(227, 260, 492, "#000", 2.5, true); legText(265, 497, 14, "ion flux");
legLine(227, 260, 509, GRAY, 2.5, true); legText(265, 513, 14, "polar angle");
svg.append("path").attr("d", d3.symbol(d3.symbolTriangle, 110)()).attr("transform", "translate(373,492)").attr("fill", "#000");
legText(392, 497, 14, "ion flux peak frequency");
svg.append("path").attr("d", "M-7,0H7M0,-7V7").attr("transform", "translate(373,509)").attr("stroke", "#909090").attr("stroke-width", 1);
legText(392, 513, 14, "polar angle peak frequency");
[578, 597].forEach(cx => svg.append("circle").attr("cx", cx).attr("cy", 499).attr("r", 1.8).attr("fill", "#000"));
rich(svg.append("text").attr("x", 614).attr("y", 503).attr("font-size", 14), 14, [{ t: "F" }, { t: "L", sub: true, small: 9 }]);
// f
legText(259, 589, 14, "τ:");
const tauX = [[272, 305, 309], [357, 390, 393], [428, 463, 467], [508, 543, 547]];
tauNames.forEach((n, i) => {
  legLine(tauX[i][0], tauX[i][1], 584, tauColors[i], 3, true);
  legText(tauX[i][2], 589, 14, n);
});
</script>
</body>
</html>
